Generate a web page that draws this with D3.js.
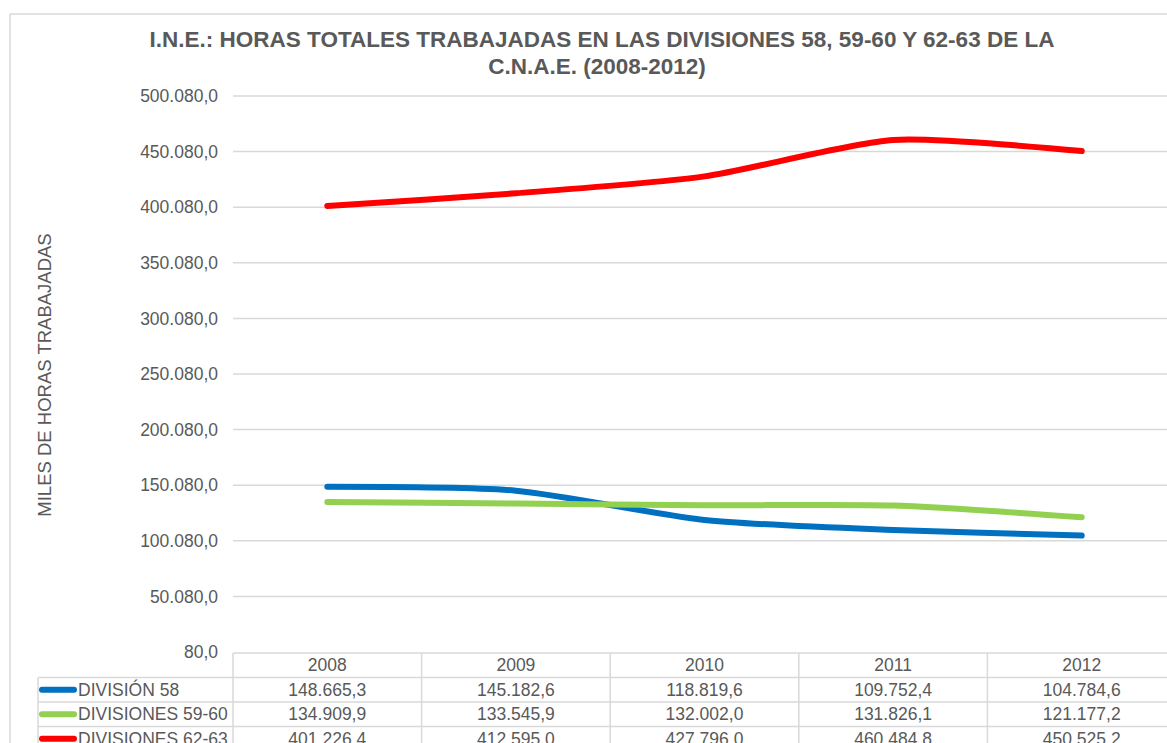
<!DOCTYPE html>
<html>
<head>
<meta charset="utf-8">
<script src="https://cdn.jsdelivr.net/npm/d3@7"></script>
<style>
  body { margin: 0; background: #fff; }
  svg text { font-family: "Liberation Sans", Arial, sans-serif; fill: #595959; }
</style>
</head>
<body>
<svg id="chart" width="1167" height="743"></svg>
<script>
// ====== data ======
const years = ["2008", "2009", "2010", "2011", "2012"];
const div58 = [148665.3, 145182.6, 118819.6, 109752.4, 104784.6];
const div5960 = [134909.9, 133545.9, 132002.0, 131826.1, 121177.2];
const div6263 = [401226.4, 412595.0, 427796.0, 460484.8, 450525.2];
const seriesNames = ["DIVISIÓN 58", "DIVISIONES 59-60", "DIVISIONES 62-63"];
const seriesColors = ["#0070c0", "#92d050", "#ff0000"];
const yTicks = [80, 50080, 100080, 150080, 200080, 250080, 300080, 350080, 400080, 450080, 500080];

const series = [div58, div5960, div6263].map((vals, i) => ({
  name: seriesNames[i], color: seriesColors[i],
  values: vals.map((v, j) => ({ year: years[j], value: v }))
}));

const svg = d3.select("#chart");
const es = d3.formatLocale({ decimal: ",", thousands: ".", grouping: [3], currency: ["", "€"] });
const fmt = es.format(",.1f");
const fs = 17.5;

// plot area
const plotLeft = 233, plotRight = 1176, plotTop = 96, plotBottom = 652;
const x = d3.scaleBand().domain(years).range([plotLeft, plotRight]);
const y = d3.scaleLinear().domain([80, 500080]).range([plotBottom, plotTop]);

// outer frame (cropped at right/bottom)
svg.append("path")
  .attr("d", "M10,760 L10,14 L1180,14")
  .attr("fill", "none").attr("stroke", "#d9d9d9").attr("stroke-width", 1.5);

// title
const title = svg.append("text").attr("text-anchor", "middle")
  .attr("font-size", 22.5).attr("font-weight", "bold");
title.append("tspan").attr("x", 602).attr("y", 47)
  .text("I.N.E.: HORAS TOTALES TRABAJADAS EN LAS DIVISIONES 58, 59-60 Y 62-63 DE LA");
title.append("tspan").attr("x", 597).attr("y", 74).text("C.N.A.E. (2008-2012)");

// gridlines
svg.append("g").selectAll("line").data(yTicks.slice(1)).join("line")
  .attr("x1", plotLeft).attr("x2", plotRight)
  .attr("y1", d => y(d)).attr("y2", d => y(d))
  .attr("stroke", "#d9d9d9").attr("stroke-width", 1.5);

// y axis labels
const yAxis = svg.append("g").attr("transform", `translate(${plotLeft},0)`)
  .call(d3.axisLeft(y).tickValues(yTicks).tickFormat(fmt).tickSize(0).tickPadding(15));
yAxis.select(".domain").remove();
yAxis.selectAll("text").attr("font-size", fs).attr("font-family", null).attr("fill", null);

svg.append("text").attr("transform", "translate(51,375) rotate(-90)")
  .attr("text-anchor", "middle").attr("font-size", 18.5)
  .text("MILES DE HORAS TRABAJADAS");

// lines
const line = d3.line().curve(d3.curveCardinal.tension(0.3))
  .x(d => x(d.year) + x.bandwidth() / 2).y(d => y(d.value));
svg.append("g").selectAll("path").data(series).join("path")
  .attr("d", d => line(d.values))
  .attr("fill", "none").attr("stroke", d => d.color)
  .attr("stroke-width", 6).attr("stroke-linecap", "round").attr("stroke-linejoin", "round");

// data table
const tableLeft = 38, rowH = 24.5, headerTop = 653;
const tg = svg.append("g");
const gridC = "#d9d9d9";
tg.append("line").attr("x1", plotLeft).attr("x2", plotRight).attr("y1", headerTop).attr("y2", headerTop)
  .attr("stroke", gridC).attr("stroke-width", 1.5);
for (let r = 1; r <= 4; r++) {
  const yy = headerTop + r * rowH;
  tg.append("line").attr("x1", tableLeft).attr("x2", plotRight).attr("y1", yy).attr("y2", yy)
    .attr("stroke", gridC).attr("stroke-width", 1.5);
}
tg.append("line").attr("x1", tableLeft).attr("x2", tableLeft)
  .attr("y1", headerTop + rowH).attr("y2", 760).attr("stroke", gridC).attr("stroke-width", 1.5);
years.concat(["end"]).forEach((yr, i) => {
  const xx = i < years.length ? x(yr) : plotRight;
  tg.append("line").attr("x1", xx).attr("x2", xx).attr("y1", headerTop).attr("y2", 760)
    .attr("stroke", gridC).attr("stroke-width", 1.5);
});
tg.selectAll(".hdr").data(years).join("text")
  .attr("x", d => x(d) + x.bandwidth() / 2).attr("y", headerTop + rowH / 2 + 6)
  .attr("text-anchor", "middle").attr("font-size", fs).text(d => d);

series.forEach((s, r) => {
  const cy = headerTop + (r + 1) * rowH + rowH / 2;
  tg.append("line").attr("x1", tableLeft + 4).attr("x2", tableLeft + 36)
    .attr("y1", cy).attr("y2", cy).attr("stroke", s.color)
    .attr("stroke-width", 6).attr("stroke-linecap", "round");
  tg.append("text").attr("x", tableLeft + 40).attr("y", cy + 6)
    .attr("font-size", fs).text(s.name);
  tg.selectAll(null).data(s.values).join("text")
    .attr("x", d => x(d.year) + x.bandwidth() / 2).attr("y", cy + 6)
    .attr("text-anchor", "middle").attr("font-size", fs).text(d => fmt(d.value));
});
</script>
</body>
</html>
